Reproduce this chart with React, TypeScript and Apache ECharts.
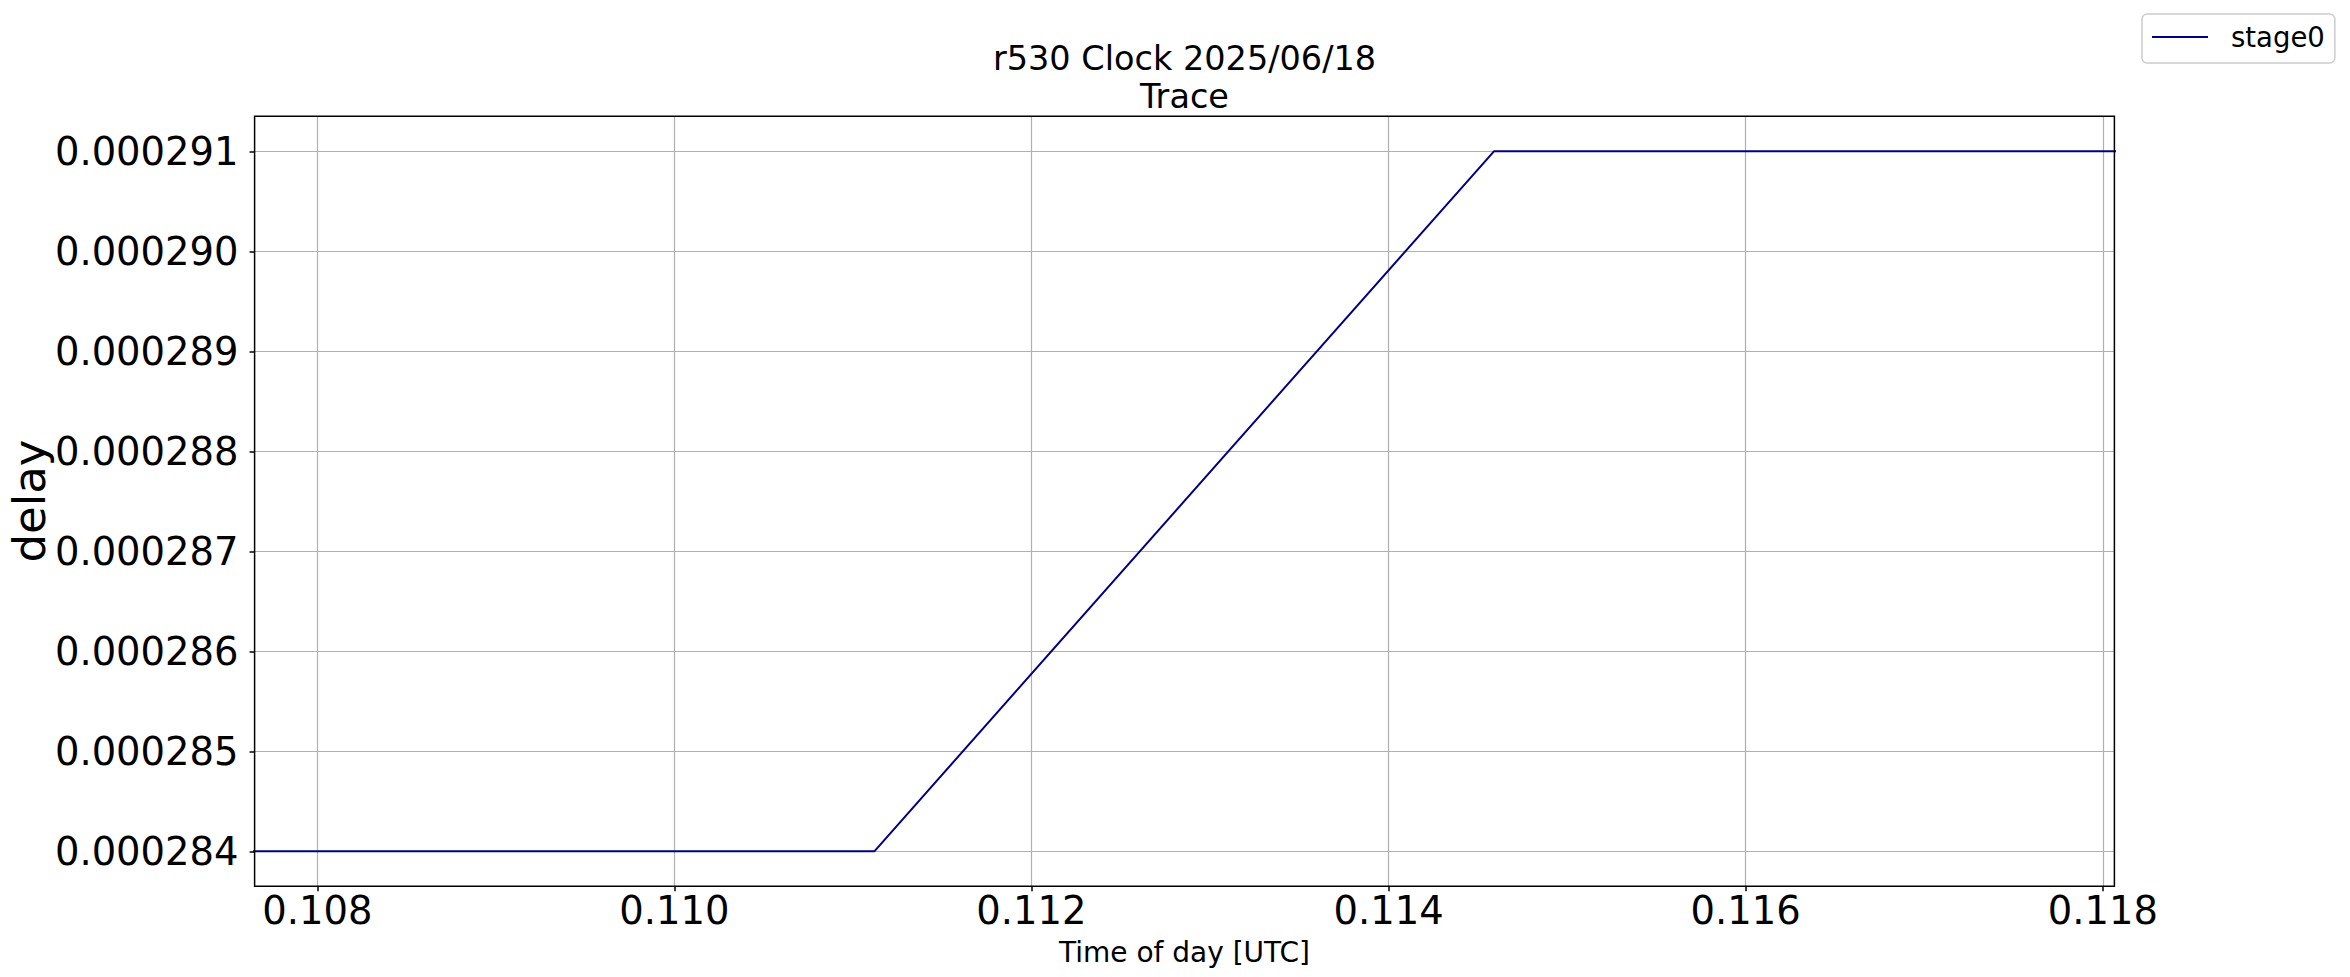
import React, { useEffect, useRef } from "react";
import * as echarts from "echarts";

// Data
const times: number[] = [0.1076, 0.11112, 0.11459, 0.1181];
const delays: number[] = [0.000284, 0.000284, 0.000291, 0.000291];
const seriesName = "stage0";
const titleLines: string[] = ["r530 Clock 2025/06/18", "Trace"];
const xLabel = "Time of day [UTC]";
const yLabel = "delay";

const FONT = "DejaVu Sans";

export default function App() {
  const ref = useRef<HTMLDivElement>(null);
  useEffect(() => {
    if (!ref.current) return;
    const chart = echarts.init(ref.current, null, { renderer: "svg" });
    const data = times.map((t, i) => [t, delays[i]]);
    const gLeft = 254.6;
    const gTop = 116.3;
    const gRight = 235.6;
    const gBottom = 90.7;
    chart.setOption({
      animation: false,
      backgroundColor: "#ffffff",
      textStyle: { fontFamily: FONT },
      grid: {
        left: gLeft,
        top: gTop,
        right: gRight,
        bottom: gBottom,
        show: false,
        containLabel: false,
      },
      legend: {
        left: 2142,
        top: 14,
        orient: "horizontal",
        padding: [9, 10, 12, 10],
        backgroundColor: "#ffffff",
        borderColor: "#cccccc",
        borderWidth: 1.5,
        borderRadius: 5,
        itemWidth: 56,
        itemHeight: 2,
        data: [{ name: seriesName, icon: "rect" }],
        textStyle: {
          fontFamily: FONT,
          fontSize: 27.5,
          color: "#000000",
          padding: [0, 0, 0, 18],
        },
      },
      xAxis: {
        type: "value",
        min: 0.107649,
        max: 0.118065,
        splitNumber: 5,
        axisLine: { show: false },
        axisTick: { show: true, length: 5, lineStyle: { color: "#000", width: 1.5 } },
        axisLabel: {
          showMinLabel: false,
          showMaxLabel: false,
          fontFamily: FONT,
          fontSize: 38.5,
          color: "#000",
          margin: 5,
          formatter: (v: number) => v.toFixed(3),
        },
        splitLine: {
          show: true,
          showMinLine: false,
          showMaxLine: false,
          lineStyle: { color: "#b0b0b0", width: 1.2 },
        },
      },
      yAxis: {
        type: "value",
        min: 0.00028365,
        max: 0.00029135,
        splitNumber: 8,
        axisLine: { show: false },
        axisTick: { show: true, length: 5, lineStyle: { color: "#000", width: 1.5 } },
        axisLabel: {
          showMinLabel: false,
          showMaxLabel: false,
          fontFamily: FONT,
          fontSize: 38.5,
          color: "#000",
          margin: 16,
          formatter: (v: number) => v.toFixed(6),
        },
        splitLine: {
          show: true,
          showMinLine: false,
          showMaxLine: false,
          lineStyle: { color: "#b0b0b0", width: 1.2 },
        },
      },
      graphic: [
        {
          type: "rect",
          z: 100,
          silent: true,
          shape: {
            x: gLeft,
            y: gTop,
            width: 2350 - gLeft - gRight,
            height: 977 - gTop - gBottom,
          },
          style: { fill: "none", stroke: "#000000", lineWidth: 1.5 },
        },
        {
          type: "text",
          x: 1184.5,
          y: 58.5,
          style: {
            text: titleLines[0],
            fontFamily: FONT,
            fontSize: 33.5,
            fill: "#000",
            align: "center",
            verticalAlign: "middle",
          },
        },
        {
          type: "text",
          x: 1184.5,
          y: 96,
          style: {
            text: titleLines[1],
            fontFamily: FONT,
            fontSize: 33.5,
            fill: "#000",
            align: "center",
            verticalAlign: "middle",
          },
        },
        {
          type: "text",
          x: 1184.5,
          y: 952,
          style: {
            text: xLabel,
            fontFamily: FONT,
            fontSize: 28,
            fill: "#000",
            align: "center",
            verticalAlign: "middle",
          },
        },
        {
          type: "text",
          x: 29,
          y: 501,
          rotation: Math.PI / 2,
          style: {
            text: yLabel,
            fontFamily: FONT,
            fontSize: 45,
            fill: "#000",
            align: "center",
            verticalAlign: "middle",
          },
        },
      ],
      series: [
        {
          name: seriesName,
          type: "line",
          data,
          showSymbol: false,
          symbol: "none",
          clip: true,
          lineStyle: { color: "#000080", width: 2 },
          itemStyle: { color: "#000080" },
        },
      ],
    });
    return () => chart.dispose();
  }, []);
  return (
    <div
      ref={ref}
      style={{ position: "fixed", left: 0, top: 0, width: 2350, height: 977 }}
    />
  );
}
